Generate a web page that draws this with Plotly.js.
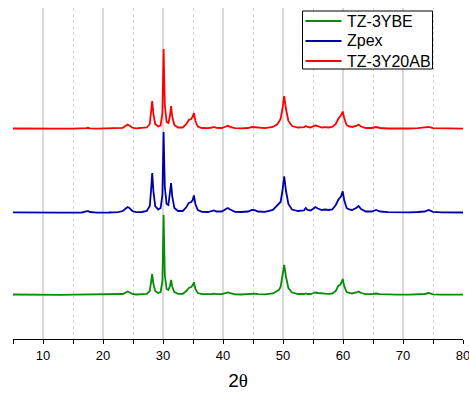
<!DOCTYPE html>
<html>
<head>
<meta charset="utf-8">
<script src="https://cdn.plot.ly/plotly-3.0.1.min.js"></script>
<style>html,body{margin:0;padding:0;background:#fff;}#chart{width:469px;height:394px;}</style>
</head>
<body>
<div id="chart"></div>
<script>
// 2-theta positions (degrees)
const theta = [5,7,9,11,13,15,16.5,17.2,17.5,17.8,19,21,22.5,23.3,23.8,24.1,24.4,24.9,25.5,26.5,27.3,27.8,28.0,28.2,28.4,28.7,29.2,29.6,29.9,30.1,30.3,30.6,30.9,31.15,31.35,31.55,31.9,32.5,33.3,33.9,34.3,34.7,34.95,35.15,35.4,35.8,36.5,37.5,38.2,38.5,38.9,39.8,40.5,40.8,41.2,42,43,44.2,44.8,45.3,45.8,47,48.3,49.0,49.3,49.6,49.9,50.2,50.5,50.9,51.5,52.5,53.5,53.8,54.1,54.6,55.1,55.4,55.8,56.5,57.0,57.6,58.2,58.8,59.2,59.5,59.7,59.95,60.2,60.6,61.0,61.5,62.2,62.6,63.0,63.8,64.8,65.5,66.2,67.5,69,71,72.5,73.6,74.3,75,76.5,78,80];

// Intensities (a.u.)
const tz3ybe = [0.5,0.3,0.2,0.4,0.2,0.3,0.3,0.8,1,0.5,0.3,0.3,0.5,1,2.5,3.5,2.8,1,0.5,0.6,1.2,4,11,21,11,4,2,3,14,80,20,6,5,9,15,8,3,1.2,1.2,4,7,8,10,12.7,6,2,0.8,0.6,1,1.3,0.8,0.8,2,2.5,1.8,0.6,0.5,0.8,1.5,1.3,0.8,0.6,1.5,3.5,5,8,18,30,18,7,2.5,1,1,1.5,1,1,2,2.5,2,1.2,1.3,1.2,1.5,4,9,10,12,16,9,3,2,1.5,2.5,3.5,2,0.8,0.8,1.5,0.8,0.4,0.3,0.4,0.6,1,2,0.7,0.4,0.3,0.3];
const zpex = [0.6,0.4,0.3,0.5,0.3,0.4,0.5,1.5,2,1,0.4,0.5,0.8,2,4.5,6,5,2,0.8,1,2,7,22,40,22,7,3.5,5,18,81,26,9,8,18,30,16,5,2,2,6,10,11,13,17.6,9,3,1.2,1,2,2.5,1.5,1.5,4,5,3.5,1.2,1,1.5,3,2.8,1.5,1.2,3,7,9,11,22,36.6,22,9,3.5,2,2.5,5,3,2.5,4.5,6,4.5,3,3.5,3,3.5,8,13,15,17,21.6,13,5,3.5,3,5,7,4,1.5,1.5,3,1.5,0.8,0.5,0.6,1,1.5,3,1.2,0.6,0.5,0.5];
const tz3y20ab = [0.5,0.3,0.4,0.2,0.3,0.4,0.3,0.8,1.2,0.6,0.3,0.4,0.6,1.2,3.2,4.5,3.5,1.3,0.6,0.7,1.5,5,15,28,15,5,2.5,3.5,16,80,24,7,6,13,23,12,4,1.5,1.5,5,9,10,12.5,16,8,2.5,1,0.8,1.5,2,1.2,1,2.5,3.2,2.2,0.8,0.7,1,2,1.8,1,0.8,2,4.5,7,10,20,33,20,8,3,1.5,1.8,3,2,1.5,2.8,3.5,2.8,1.5,1.8,1.5,2,5,10,12,14,17.5,11,4,2.5,2,3,4.5,2.5,1,1,2,1,0.5,0.3,0.5,0.8,1.2,2.2,0.8,0.5,0.3,0.4];

const names = ['TZ-3YBE','Zpex','TZ-3Y20AB'];
const series = [tz3ybe, zpex, tz3y20ab];
const colors = ['#0a8a0a','#0000a8','#ff0000'];
const offsets = [44, 126, 210];

const traces = series.map((s,i)=>({
  x: theta,
  y: s.map(v=>v+offsets[i]),
  type:'scatter', mode:'lines', name:names[i], showlegend:false,
  line:{color:colors[i], width:1.8, shape:'linear'}
}));

// legend drawn in paper coordinates (plot area: x 13..463 px, y 8..339 px)
const W = 450, H = 331, L = 13, B = 339;
const px = v => (v - L) / W;
const py = v => (B - v) / H;
const shapes = [{type:'rect', xref:'paper', yref:'paper', x0:px(302.5), x1:px(432.5), y0:py(69), y1:py(11),
  line:{color:'#000', width:1}, fillcolor:'#fff', layer:'above'}];
const annotations = [];
names.forEach((n,i)=>{
  const yy = 21 + i*20;
  shapes.push({type:'line', xref:'paper', yref:'paper', x0:px(305.5), x1:px(341.5), y0:py(yy), y1:py(yy),
    line:{color:colors[i], width:1.8}, layer:'above'});
  annotations.push({xref:'paper', yref:'paper', x:px(344.5), y:py(yy), xanchor:'left', yanchor:'middle',
    text:n, showarrow:false, font:{size:16, color:'#000'}});
});

const layout = {
  width:469, height:394,
  margin:{l:13, r:6, t:8, b:55},
  paper_bgcolor:'#fff', plot_bgcolor:'#fff',
  font:{family:'Liberation Sans, Arial, sans-serif', color:'#000'},
  showlegend:false,
  shapes: shapes, annotations: annotations,
  xaxis:{range:[5,80], tick0:0, dtick:10, ticks:'outside', ticklen:4, tickwidth:1, tickcolor:'#000',
    showline:true, linecolor:'#000', linewidth:1, zeroline:false, ticklabeloverflow:'allow',
    showgrid:true, gridcolor:'#dadada', gridwidth:1.5,
    tickfont:{size:13, color:'#000'},
    minor:{dtick:5, tick0:0, ticks:'outside', ticklen:4, tickcolor:'#000', showgrid:true, gridcolor:'#d6d6d6', griddash:'dot', gridwidth:1},
    title:{text:"2<span style='font-family:Liberation Serif, serif'>θ</span>", font:{size:19, color:'#000'}, standoff:12}},
  yaxis:{range:[0,331], showticklabels:false, ticks:'', showgrid:false, zeroline:false, showline:false}
};

Plotly.newPlot('chart', traces, layout, {staticPlot:true, displayModeBar:false});
</script>
</body>
</html>
